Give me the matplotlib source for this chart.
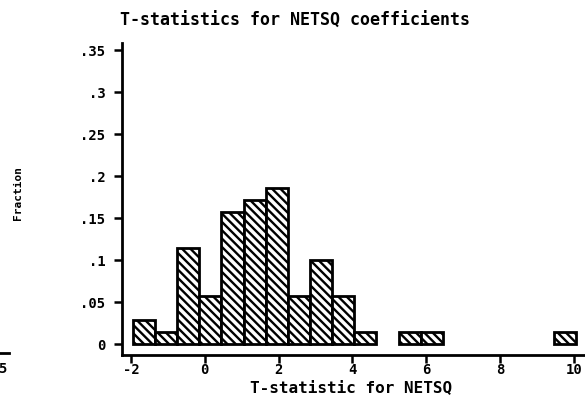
import numpy as np
import matplotlib
matplotlib.use("Agg")
from matplotlib import pyplot as plt

# histogram of t-statistics, 70 obs, 20 bins of width .6 starting at -1.95
bin_start = -1.95
bin_width = 0.6
counts = [2, 1, 8, 4, 11, 12, 13, 4, 7, 4, 1, 0, 1, 1, 0, 0, 0, 0, 0, 1]
n_obs = 70

xticks = [-2, 0, 2, 4, 6, 8, 10]
yticks = [0, 0.05, 0.1, 0.15, 0.2, 0.25, 0.3, 0.35]
ytick_labels = ["0", ".05", ".1", ".15", ".2", ".25", ".3", ".35"]

plt.rcParams['font.family'] = ['DejaVu Sans Mono']
plt.rcParams['font.weight'] = 'bold'
plt.rcParams['hatch.linewidth'] = 1.7

W, H = 585, 398
fig = plt.figure(figsize=(W / 100, H / 100), dpi=100)

# axes box in pixels: left spine x=122, bottom spine y=355, top y=43
ax = fig.add_axes([122 / W, (H - 355) / H, 1 - 122 / W, (355 - 43) / H])

px_per_x = 36.9
x0_px = 131  # pixel of x=-2
xmin = -2 - (x0_px - 122) / px_per_x
xmax = -2 + (W - x0_px) / px_per_x
px_per_y = (344 - 50) / 0.35
ymin = -(355 - 344) / px_per_y
ymax = 0.35 + (50 - 43) / px_per_y

fractions = np.array(counts) / n_obs
lefts = bin_start + bin_width * np.arange(len(counts))
mask = fractions > 0
ax.bar(lefts[mask], fractions[mask], width=bin_width, align='edge',
       color='white', edgecolor='black', linewidth=2.0, hatch='\\\\\\\\')

ax.set_xlim(xmin, xmax)
ax.set_ylim(ymin, ymax)
ax.spines['top'].set_visible(False)
ax.spines['right'].set_visible(False)
ax.spines['left'].set_linewidth(2.0)
ax.spines['bottom'].set_linewidth(2.0)

ax.set_xticks(xticks)
ax.set_xticklabels([str(t) for t in xticks])
ax.set_yticks(yticks)
ax.set_yticklabels(ytick_labels)
ax.tick_params(axis='both', direction='out', length=6, width=1.8,
               labelsize=10)
ax.tick_params(axis='x', pad=0)
ax.tick_params(axis='y', pad=6)

fig.text(295 / W, 1 - 21 / H, "T-statistics for NETSQ coefficients",
         ha='center', va='center', fontsize=12, fontweight='bold')
fig.text(351 / W, 1 - 388 / H, "T-statistic for NETSQ",
         ha='center', va='center', fontsize=11.5, fontweight='bold')
fig.text(18 / W, 1 - 193 / H, "Fraction", rotation=90,
         ha='center', va='center', fontsize=8, fontweight='bold')

# fragment of the neighbouring graph at the left edge
fig.add_artist(plt.Line2D([0, 9 / W], [1 - 353 / H, 1 - 353 / H],
                          color='black', linewidth=2))
fig.text(6 / W, 1 - 369 / H, "5", ha='right', va='center', fontsize=10,
         fontweight='bold')

fig.savefig("out.png", dpi=100)
